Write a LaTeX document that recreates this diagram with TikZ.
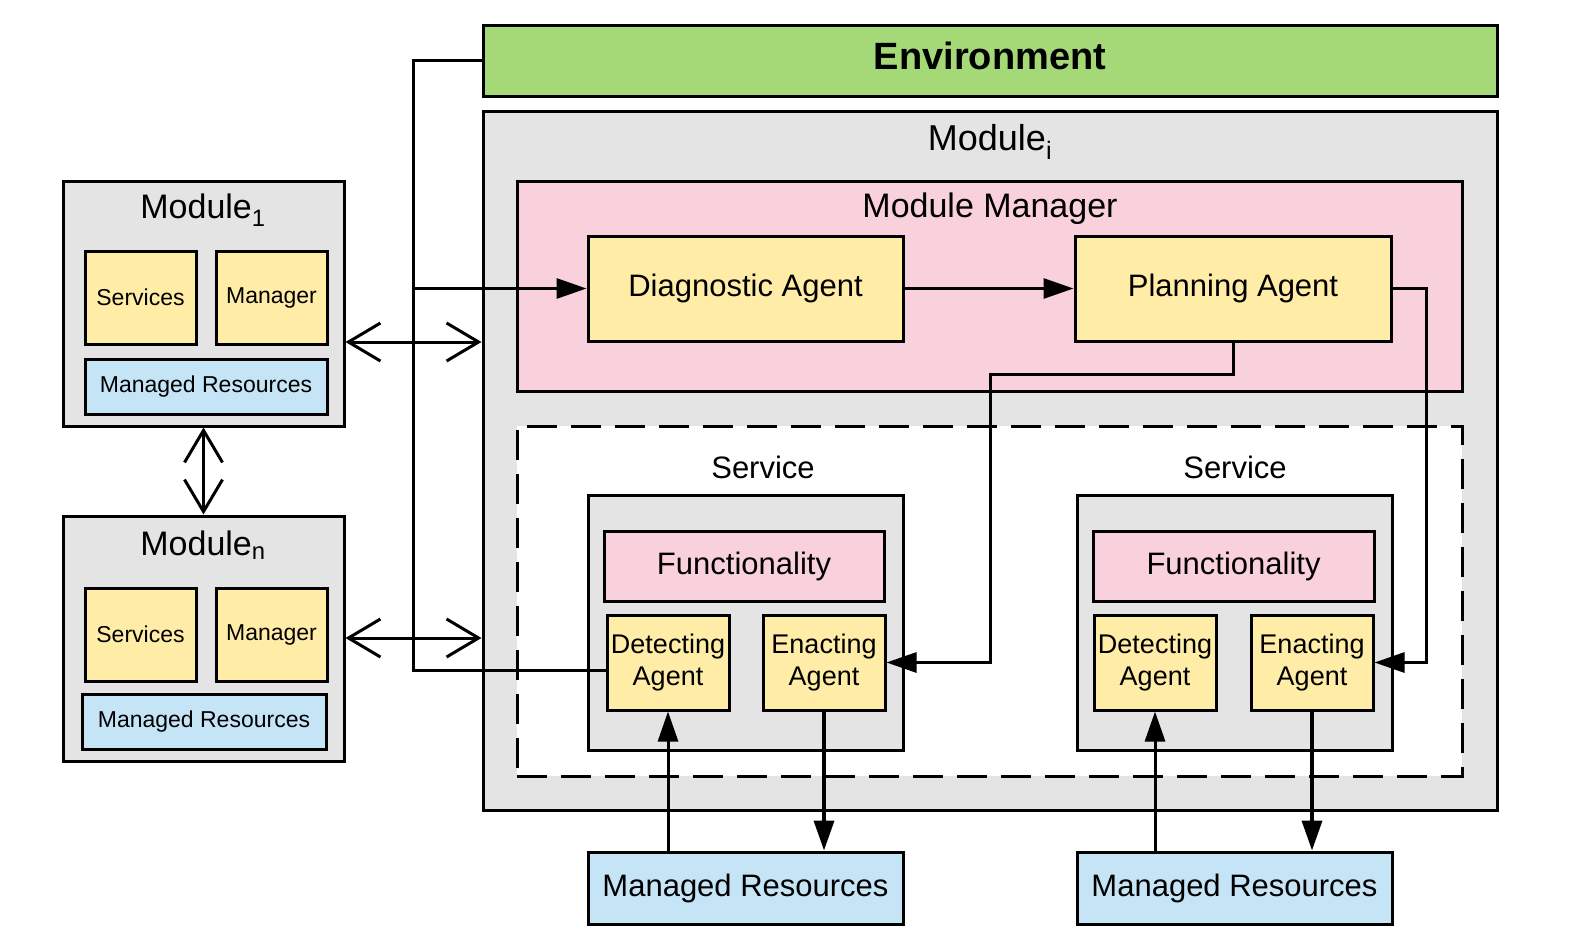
\documentclass[tikz,border=0pt]{standalone}
\usepackage{fontspec}
\setmainfont{Liberation Sans}
\usetikzlibrary{arrows.meta}

\definecolor{envgreen}{RGB}{165, 217, 120}
\definecolor{modgray}{RGB}{228, 228, 228}
\definecolor{mgrpink}{RGB}{249, 209, 220}
\definecolor{agtyellow}{RGB}{255, 236, 166}
\definecolor{resblue}{RGB}{197, 229, 246}

\tikzset{
  box/.style={draw, line width=3pt, inner sep=0pt, align=center},
  wire/.style={line width=3pt},
  arr/.style={wire, -{Triangle[length=30pt, width=20pt]}},
  barbs/.style={line width=3pt, {Straight Barb[length=32pt, width=38pt]}-{Straight Barb[length=32pt, width=38pt]}},
  big/.style={font=\fontsize{31}{36}\selectfont},
  small/.style={font=\fontsize{23}{27}\selectfont},
}

\begin{document}
\begin{tikzpicture}[x=1pt, y=-1pt]
  \useasboundingbox (0,0) rectangle (1570,942);

  % environment and module i
  \node[box, fill=envgreen, minimum width=1014pt, minimum height=70pt, text depth=10pt,
        font=\fontsize{38}{44}\selectfont\bfseries] (env) at (990,61) {Environment};
  \node[box, fill=modgray, minimum width=1014pt, minimum height=699pt] (modi) at (990,460.5) {};
  \node[font=\fontsize{36}{42}\selectfont] (modilabel) at (990,142) {Module\textsubscript{i}};

  \node[box, fill=mgrpink, minimum width=945pt, minimum height=210pt] (mman) at (989.5,286) {};
  \node[font=\fontsize{34}{40}\selectfont] (mmanlabel) at (990,209) {Module Manager};
  \node[box, big, fill=agtyellow, minimum width=315pt, minimum height=105pt] (diag) at (745.5,288.5) {Diagnostic Agent};
  \node[box, big, fill=agtyellow, minimum width=316pt, minimum height=105pt] (plan) at (1233,288.5) {Planning Agent};

  \node[draw, line width=3pt, dash pattern=on 30pt off 14pt, fill=white,
        minimum width=945pt, minimum height=350pt] (dash) at (989.5,601) {};

  % services
  \node[big] (svlabel1) at (763,467) {Service};
  \node[big] (svlabel2) at (1235,467) {Service};
  \node[box, fill=modgray, minimum width=315pt, minimum height=255pt] (serv1) at (745.5,622.5) {};
  \node[box, fill=modgray, minimum width=315pt, minimum height=255pt] (serv2) at (1234.5,622.5) {};
  \node[box, big, fill=mgrpink, minimum width=280pt, minimum height=70pt] (func1) at (744,566) {Functionality};
  \node[box, big, fill=mgrpink, minimum width=281pt, minimum height=70pt] (func2) at (1233.5,566) {Functionality};
  \node[box, fill=agtyellow, minimum width=122pt, minimum height=95pt,
        font=\fontsize{27}{32}\selectfont] (det1) at (668,662.5) {Detecting\\Agent};
  \node[box, fill=agtyellow, minimum width=122pt, minimum height=95pt,
        font=\fontsize{27}{32}\selectfont] (ena1) at (824,662.5) {Enacting\\Agent};
  \node[box, fill=agtyellow, minimum width=122pt, minimum height=95pt,
        font=\fontsize{27}{32}\selectfont] (det2) at (1155,662.5) {Detecting\\Agent};
  \node[box, fill=agtyellow, minimum width=122pt, minimum height=95pt,
        font=\fontsize{27}{32}\selectfont] (ena2) at (1312,662.5) {Enacting\\Agent};

  \node[box, big, fill=resblue, minimum width=315pt, minimum height=72pt] (res1) at (745.5,888) {Managed Resources};
  \node[box, big, fill=resblue, minimum width=315pt, minimum height=72pt] (res2) at (1234.5,888) {Managed Resources};

  % module 1 and module n
  \node[box, fill=modgray, minimum width=281pt, minimum height=245pt] (m1) at (203.5,303.5) {};
  \node[font=\fontsize{34}{40}\selectfont] (m1label) at (203,210) {Module\textsubscript{1}};
  \node[box, small, fill=agtyellow, minimum width=111pt, minimum height=93pt] (svc1) at (140.5,297.5) {Services};
  \node[box, small, fill=agtyellow, minimum width=111pt, minimum height=93pt] (mgr1) at (271.5,297.5) {Manager};
  \node[box, small, fill=resblue, minimum width=242pt, minimum height=55pt] (mr1) at (206,386.5) {Managed Resources};

  \node[box, fill=modgray, minimum width=281pt, minimum height=245pt] (mn) at (203.5,638.5) {};
  \node[font=\fontsize{34}{40}\selectfont] (mnlabel) at (203,545) {Module\textsubscript{n}};
  \node[box, small, fill=agtyellow, minimum width=111pt, minimum height=93pt] (svcn) at (140.5,634.5) {Services};
  \node[box, small, fill=agtyellow, minimum width=111pt, minimum height=93pt] (mgrn) at (271.5,634.5) {Manager};
  \node[box, small, fill=resblue, minimum width=244pt, minimum height=55pt] (mrn) at (204,721.5) {Managed Resources};

  % helper points
  \coordinate (bus) at (413,0);
  \coordinate (turn) at (990,374);
  \coordinate (side) at (1426,0);
  \coordinate (link1) at (0,342);
  \coordinate (linkn) at (0,638);
  \coordinate (det1in) at ([yshift=-8pt]det1.west);

  % connectors
  \draw[wire] (env.west) -| (bus |- det1in) -- (det1in);
  \draw[arr] (bus |- diag) -- (diag.west);
  \draw[arr] (diag.east) -- (plan.west);
  \draw[arr] (plan.south) |- (turn) |- (ena1.east);
  \draw[arr] (plan.east) -| (side |- ena2.east) -- (ena2.east);

  \draw[barbs] (m1.east |- link1) -- (modi.west |- link1);
  \draw[barbs] (mn.east |- linkn) -- (modi.west |- linkn);
  \draw[barbs] (m1.south) -- (mn.north);

  \draw[arr] (res1.north -| det1) -- (det1.south);
  \draw[arr, line width=3.6pt] (ena1.south) -- (res1.north -| ena1);
  \draw[arr] (res2.north -| det2) -- (det2.south);
  \draw[arr, line width=3.6pt] (ena2.south) -- (res2.north -| ena2);
\end{tikzpicture}
\end{document}
